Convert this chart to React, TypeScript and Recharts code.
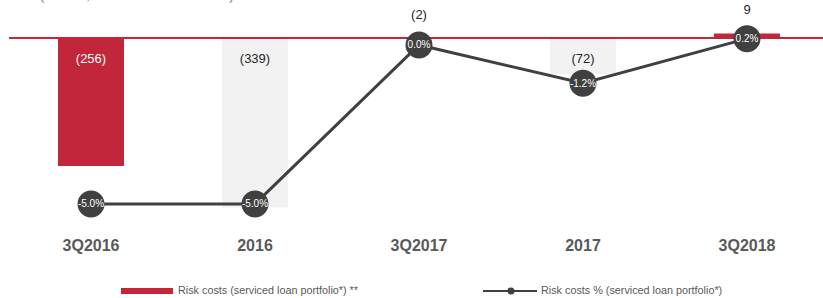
import { ComposedChart, Bar, Line, XAxis, YAxis, ReferenceLine, Cell, LabelList } from "recharts";

const periods = ["3Q2016", "2016", "3Q2017", "2017", "3Q2018"];
const riskCosts = [-256, -339, -2, -72, 9];
const riskCostsPct = [-5.0, -5.0, 0.0, -1.2, 0.2];
const barColors = ["#c1263a", "#f2f2f2", "#c1263a", "#f2f2f2", "#c1263a"];
const barTextColors = ["#ffffff", "#262626", "#262626", "#262626", "#262626"];

const data = periods.map((p, i) => ({ period: p, cost: riskCosts[i], pct: riskCostsPct[i] }));

const fmtCost = (v: number) => (v < 0 ? `(${Math.abs(v)})` : `${v}`);

function CostLabel(props: any) {
  const { x, y, width, height, value, index } = props;
  const top = Math.min(y, y + height);
  const small = Math.abs(height) < 20;
  const cy = small ? top - 24 : top + 20;
  return (
    <text
      x={x + width / 2}
      y={cy}
      textAnchor="middle"
      dominantBaseline="central"
      fontSize={13}
      fill={small ? "#262626" : barTextColors[index]}
      fontFamily="Liberation Sans, Arial, sans-serif"
    >
      {fmtCost(value)}
    </text>
  );
}

function PctDot(props: any) {
  const { cx, cy, value, index } = props;
  return (
    <g key={index}>
      <circle cx={cx} cy={cy} r={13.5} fill="#404040" />
      <text
        x={cx}
        y={cy}
        textAnchor="middle"
        dominantBaseline="central"
        fontSize={10}
        fill="#ffffff"
        fontFamily="Liberation Sans, Arial, sans-serif"
      >
        {`${value.toFixed(1)}%`}
      </text>
    </g>
  );
}

export default function App() {
  const font = "Liberation Sans, Arial, sans-serif";
  return (
    <div style={{ position: "absolute", left: 0, top: 0, width: 823, height: 298, overflow: "hidden", fontFamily: font }}>
      <div style={{ position: "absolute", left: 40, top: -12, fontSize: 13, color: "#808080", whiteSpace: "nowrap" }}>
        (UAH m, unless otherwise stated)
      </div>
      <ComposedChart width={830} height={260} data={data} margin={{ top: 18, right: 1, left: 9, bottom: 2 }}>
        <XAxis
          dataKey="period"
          axisLine={false}
          tickLine={false}
          tickMargin={6}
          interval={0}
          height={30}
          tick={{ fontSize: 16, fontWeight: 700, fill: "#595959", fontFamily: font }}
        />
        <YAxis yAxisId="bar" hide domain={[-380, 40]} />
        <YAxis yAxisId="pct" hide domain={[-5.755, 0.849]} />
        <Bar yAxisId="bar" dataKey="cost" barSize={66} isAnimationActive={false}>
          {data.map((_, i) => (
            <Cell key={i} fill={barColors[i]} />
          ))}
          <LabelList dataKey="cost" content={<CostLabel />} />
        </Bar>
        <ReferenceLine yAxisId="bar" y={0} stroke="#c1263a" strokeWidth={2} />
        <Line
          yAxisId="pct"
          dataKey="pct"
          stroke="#404040"
          strokeWidth={3}
          dot={<PctDot />}
          activeDot={false}
          isAnimationActive={false}
        />
      </ComposedChart>
      <div style={{ position: "absolute", left: 121, top: 288, width: 52, height: 6, background: "#c1263a" }} />
      <div style={{ position: "absolute", left: 178, top: 284, fontSize: 10.8, color: "#595959", whiteSpace: "nowrap" }}>
        Risk costs (serviced loan portfolio*) **
      </div>
      <svg style={{ position: "absolute", left: 483, top: 284 }} width={56} height={14}>
        <line x1={0} y1={7} x2={54} y2={7} stroke="#404040" strokeWidth={2} />
        <circle cx={28} cy={7} r={3.5} fill="#404040" />
      </svg>
      <div style={{ position: "absolute", left: 541, top: 284, fontSize: 10.8, color: "#595959", whiteSpace: "nowrap" }}>
        Risk costs % (serviced loan portfolio*)
      </div>
    </div>
  );
}
